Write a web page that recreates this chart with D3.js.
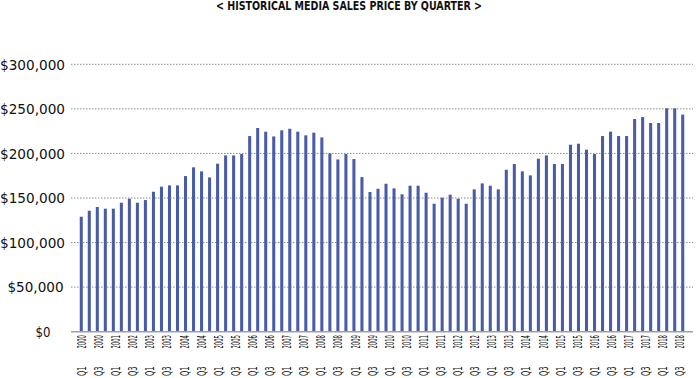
<!DOCTYPE html>
<html>
<head>
<meta charset="utf-8">
<script src="https://cdn.jsdelivr.net/npm/d3@7"></script>
<style>
  html, body { margin: 0; padding: 0; background: #fff; }
  svg { display: block; }
  .narrow { font-family: "Liberation Sans Narrow", "DejaVu Sans Condensed", "Arial Narrow", "DejaVu Sans", sans-serif; }
</style>
</head>
<body>
<svg id="chart" width="700" height="378"></svg>
<script>
const years = ["2000","2001","2002","2003","2004","2005","2006","2007","2008","2009",
               "2010","2011","2012","2013","2014","2015","2016","2017","2018"];
const quarterNames = ["Q1","Q2","Q3","Q4"];
const categories = years.flatMap(y => quarterNames.map(q => q + " " + y));

const values = [
  129000, 135700, 139900, 138000,
  138000, 144700, 149200, 144700,
  147700, 157000, 162700, 164200,
  164200, 174600, 184400, 179900,
  173100, 188500, 197800, 197800,
  199300, 219500, 228500, 224400,
  219100, 225900, 227700, 224400,
  220300, 223300, 218000, 200100,
  193300, 199300, 193700, 173500,
  156700, 160400, 166000, 160800,
  154100, 163800, 163800, 155900,
  143600, 150300, 153700, 149200,
  143600, 159700, 166400, 163800,
  159700, 181700, 188100, 179900,
  175400, 194100, 197800, 188100,
  188100, 209800, 210900, 204200,
  199300, 219500, 224400, 219500,
  219500, 238600, 240800, 234100,
  234100, 250600, 250600, 243500
];

const tickLabels = [
  "Q1 2000","Q3 2000","Q1 2001","Q3 2002","Q1 2003","Q3 2003","Q1 2004","Q3 2004","Q1 2005",
  "Q3 2005","Q1 2006","Q3 2006","Q1 2007","Q3 2007","Q1 2008","Q3 2008","Q1 2009","Q3 2009",
  "Q1 2010","Q3 2010","Q1 2011","Q3 2011","Q1 2012","Q3 2012","Q1 2013","Q3 2013","Q1 2014",
  "Q3 2014","Q1 2015","Q3 2015","Q1 2016","Q3 2016","Q1 2017","Q3 2017","Q1 2018","Q3 2018"
];

const yTicks = [0, 50000, 100000, 150000, 200000, 250000, 300000];
const title = "< HISTORICAL MEDIA SALES PRICE BY QUARTER >";

const svg = d3.select("#chart");
const mLeft = 71, mRight = 693, mTop = 64.3, mBottom = 331.7;

const x = d3.scaleBand().domain(categories).range([mLeft, mRight]).paddingInner(0.62).paddingOuter(1.09);
const y = d3.scaleLinear().domain([0, 300000]).range([mBottom, mTop]);
const xl = d3.scalePoint().domain(tickLabels).range([mLeft + 10.7, mRight - 13]);

// title
svg.append("text")
  .attr("class", "narrow")
  .attr("x", 349).attr("y", 10)
  .attr("text-anchor", "middle")
  .attr("font-size", 11.5)
  .attr("font-weight", "bold")
  .attr("fill", "#111")
  .attr("textLength", 266)
  .attr("lengthAdjust", "spacingAndGlyphs")
  .text(title);

// gridlines
svg.append("g")
  .selectAll("line")
  .data(yTicks.filter(d => d > 0))
  .join("line")
  .attr("x1", mLeft).attr("x2", mRight)
  .attr("y1", d => y(d)).attr("y2", d => y(d))
  .attr("stroke", "#8c8c8c")
  .attr("stroke-width", 1)
  .attr("stroke-dasharray", "1.5,1.5");

// y labels
const fmt = d3.format(",");
const yl = svg.append("g").attr("class", "narrow");
yTicks.forEach(t => {
  const s = "$" + fmt(t);
  const w = s.length >= 8 ? 65 : (s.length === 7 ? 56 : 15);
  yl.append("text")
    .attr("x", t === 0 ? 50.5 : (s.length === 7 ? 63.5 : 65))
    .attr("y", y(t))
    .attr("dy", "0.36em")
    .attr("text-anchor", "end")
    .attr("font-size", 14.5)
    .attr("fill", "#111")
    .attr("textLength", w)
    .attr("lengthAdjust", "spacingAndGlyphs")
    .text(s);
});

// bars
svg.append("g")
  .selectAll("rect")
  .data(values)
  .join("rect")
  .attr("x", (d, i) => x(categories[i]))
  .attr("width", x.bandwidth())
  .attr("y", d => y(d))
  .attr("height", d => y(0) - y(d))
  .attr("fill", "#4a5ca6");

// baseline
svg.append("line")
  .attr("x1", mLeft).attr("x2", mRight)
  .attr("y1", y(0)).attr("y2", y(0))
  .attr("stroke", "#a0a0a0")
  .attr("stroke-width", 1.5);

// x labels
const xg = svg.append("g").attr("class", "narrow");
tickLabels.forEach(lab => {
  const [q, yr] = lab.split(" ");
  const cx = xl(lab);
  xg.append("text")
    .attr("transform", `translate(${cx + 4.3},376) rotate(-90)`)
    .attr("text-anchor", "start")
    .attr("font-size", 12)
    .attr("fill", "#111")
    .attr("textLength", 9.5)
    .attr("lengthAdjust", "spacingAndGlyphs")
    .text(q);
  xg.append("text")
    .attr("transform", `translate(${cx + 4.3},335) rotate(-90)`)
    .attr("text-anchor", "end")
    .attr("font-size", 12)
    .attr("fill", "#111")
    .attr("textLength", 13.5)
    .attr("lengthAdjust", "spacingAndGlyphs")
    .text(yr);
});
</script>
</body>
</html>
